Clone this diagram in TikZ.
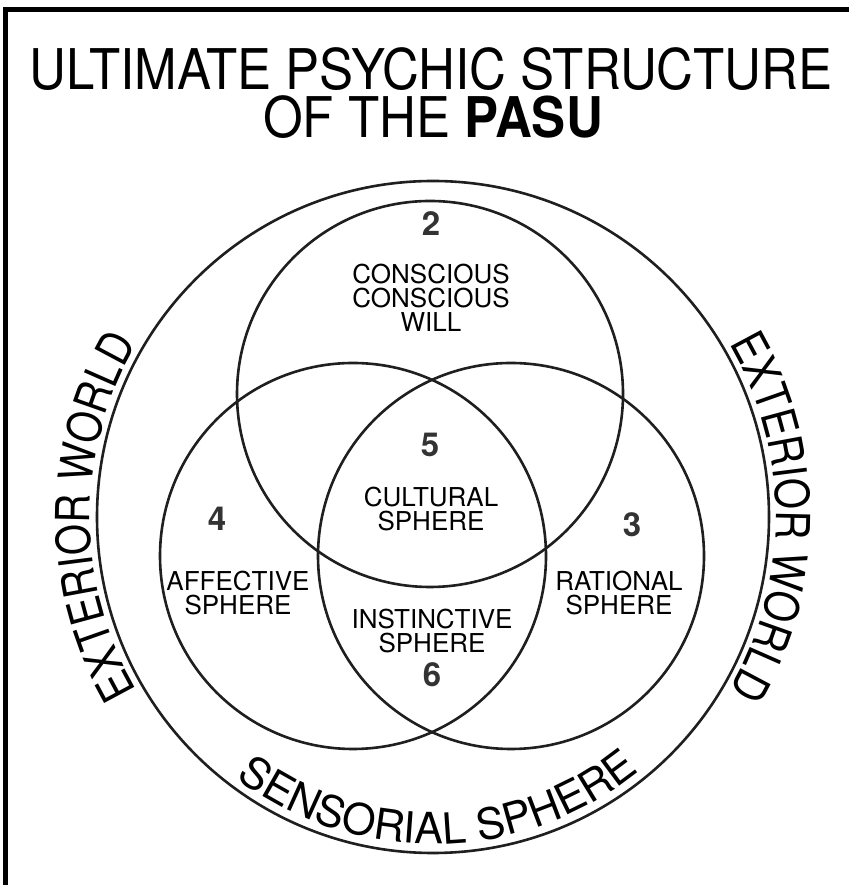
\documentclass[tikz,border=0pt]{standalone}
\usepackage{fontspec}
\setmainfont{TeX Gyre Heros}
\newfontfamily\condfont[FakeStretch=0.85]{TeX Gyre Heros}
\usetikzlibrary{decorations.text}
\newcommand\exfont{\condfont\fontsize{47}{47}\selectfont}
\newcommand\sensfont{\fontsize{43}{43}\selectfont}
\begin{document}
\begin{tikzpicture}[x=1pt,y=1pt,
  ring/.style={line width=2.6pt, draw=black!88},
  lbl/.style={font=\fontsize{26}{24}\selectfont, align=center, inner sep=0pt},
  num/.style={font=\fontsize{33}{33}\selectfont\bfseries, text=black!80, inner sep=0pt},
  ttl/.style={inner sep=0pt, font=\fontsize{51}{51}\selectfont}
]
\useasboundingbox (0,0) rectangle (849,885);
\fill[white] (0,0) rectangle (849,885);
\draw[line width=5pt] (5.5,0) -- (5.5,875) -- (849,875);

% title
\node[ttl] (title1) at (431,816) {\scalebox{1}[1.1]{ULTIMATE PSYCHIC STRUCTURE}};
\node[ttl] (title2) at (433,768) {\scalebox{1}[1.1]{OF THE \textbf{PASU}}};

% circles
\coordinate (C) at (433,368);
\draw[ring] (C) circle[radius=336];
\draw[ring] (430,491) circle[radius=193];
\draw[ring] (353,329) circle[radius=193];
\draw[ring] (511,329) circle[radius=193];

% labels
\node[num] (n2) at (431,661) {2};
\node[lbl] (will) at (431,587) {CONSCIOUS\\CONSCIOUS\\WILL};
\node[num] (n5) at (430,440) {5};
\node[lbl] (cult) at (431,376) {CULTURAL\\SPHERE};
\node[num] (n4) at (217,366) {4};
\node[num] (n3) at (632,360) {3};
\node[lbl] (aff) at (238,292) {AFFECTIVE\\SPHERE};
\node[lbl] (rat) at (619,292) {RATIONAL\\SPHERE};
\node[lbl] (inst) at (432,254) {INSTINCTIVE\\SPHERE};
\node[num] (n6) at (432,210) {6};

% curved texts
\path[decorate, decoration={text along path, text align=center,
  text={|\exfont|EXTERIOR WORLD}}]
  (C) ++(210:343) arc[start angle=210, end angle=150, radius=343];
\path[decorate, decoration={text along path, text align=center,
  text={|\exfont|EXTERIOR WORLD}}]
  (C) ++(31:343) arc[start angle=31, end angle=-31, radius=343];
\path[decorate, decoration={text along path, text align=center,
  text={|\sensfont|SENSORIAL SPHERE}}]
  (C) ++(228:327) arc[start angle=228, end angle=314, radius=327];
\end{tikzpicture}
\end{document}
